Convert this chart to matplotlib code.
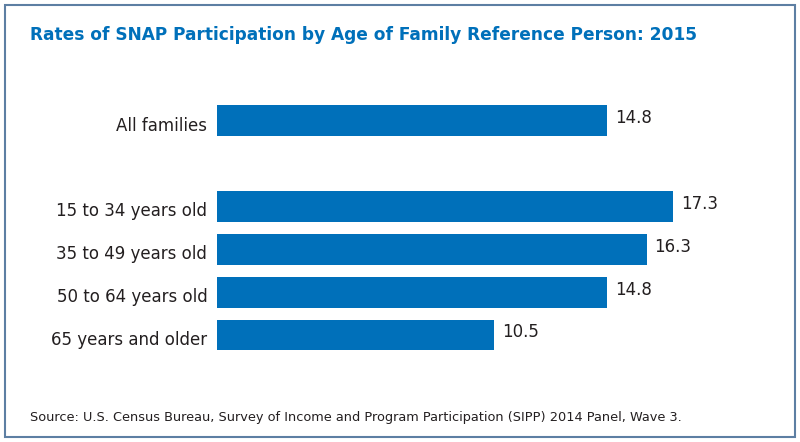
import matplotlib.pyplot as plt
from matplotlib.patches import Rectangle
from matplotlib.transforms import ScaledTranslation

categories = ["All families", "15 to 34 years old", "35 to 49 years old",
              "50 to 64 years old", "65 years and older"]
rates = [14.8, 17.3, 16.3, 14.8, 10.5]
slots = [0, 2, 3, 4, 5]

title = "Rates of SNAP Participation by Age of Family Reference Person: 2015"
source = ("Source: U.S. Census Bureau, Survey of Income and Program Participation "
          "(SIPP) 2014 Panel, Wave 3.")

BLUE = "#0070ba"
TEXT = "#231f20"
W, H = 800, 442

plt.rcParams['font.family'] = ['DejaVu Sans']

fig = plt.figure(figsize=(8, 4.42), dpi=100)

# frame around the graphic
fig.patches.append(Rectangle((5 / W, 5 / H), 790 / W, 432 / H, transform=fig.transFigure,
                             fill=False, edgecolor="#5d7fa3", linewidth=1.5))

ax = fig.add_axes([217 / W, 1 - 356.4 / H, 543 / W, 257 / H])
ax.barh(slots, rates, height=0.72, color=BLUE)
ax.set_xlim(0, 543 / 26.36)
ax.set_ylim(5.5, -0.5)
ax.set_yticks(slots)
ax.set_yticklabels(categories, fontsize=12, color=TEXT)
ax.tick_params(axis="y", length=0, pad=7)
ax.set_xticks([])
for s in ax.spines.values():
    s.set_visible(False)

# category labels sit a little below the bar centre, values a little above
down = ScaledTranslation(0, -3 / 100, fig.dpi_scale_trans)
for lab in ax.get_yticklabels():
    lab.set_transform(lab.get_transform() + down)

up = ScaledTranslation(0, 2.5 / 100, fig.dpi_scale_trans)
for y, v in zip(slots, rates):
    ax.text(v + 0.3, y, f"{v:.1f}", va="center", ha="left", fontsize=12, color=TEXT,
            transform=ax.transData + up)

fig.text(30 / W, 1 - 35 / H, title, fontsize=12.25, fontweight="bold", color=BLUE,
         va="center", ha="left")
fig.text(30 / W, 1 - 417 / H, source, fontsize=9.25, color=TEXT, va="center", ha="left")

fig.savefig("out.png", dpi=100)
